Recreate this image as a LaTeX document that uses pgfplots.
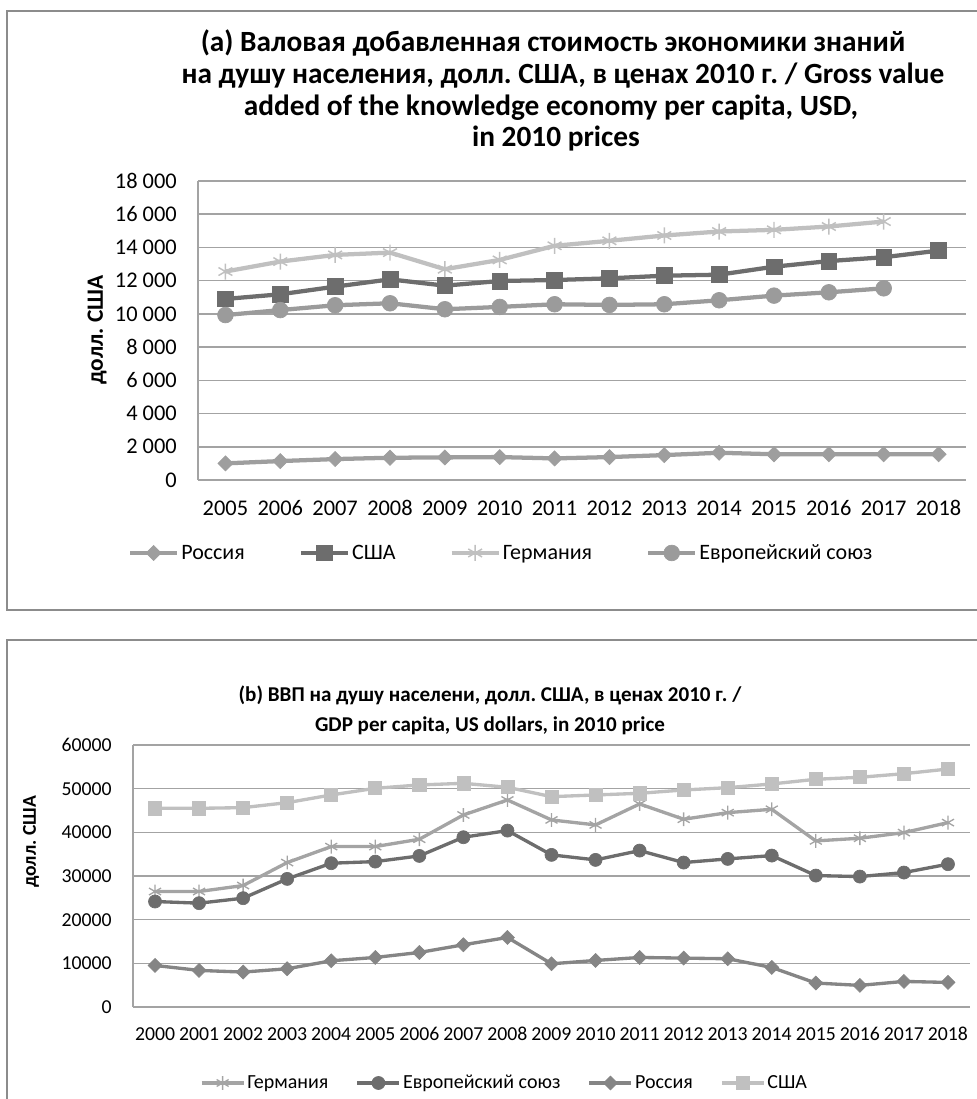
\documentclass[border=0pt]{standalone}
\usepackage{pgfplots}
\pgfplotsset{compat=1.18}
\usepackage{fontspec}
\setmainfont{Carlito}
\definecolor{gridc}{HTML}{A3A3A3}
\definecolor{framec}{HTML}{8C8C8C}
\definecolor{cRuA}{HTML}{9E9E9E}
\definecolor{cDark}{HTML}{6D6D6D}
\definecolor{cLight}{HTML}{C0C0C0}
\definecolor{cEuA}{HTML}{9B9B9B}
\definecolor{cDeB}{HTML}{A4A4A4}
\definecolor{cRuB}{HTML}{858585}

\pgfplotsset{
  common/.style={
    scale only axis, axis lines*=left,
    axis line style={gridc, line width=1.1pt},
    ymajorgrids, grid style={gridc, line width=1.1pt},
    major tick length=0pt, tick style={draw=none},
    /pgf/number format/assume math mode=true,
    x tick label style={/pgf/number format/1000 sep={}},
    scaled y ticks=false, clip=false,
    legend cell align=left,
  },
}

\begin{document}
\frenchspacing
\begin{tikzpicture}
\begin{scope}[x=0.75pt,y=-0.75pt]
\useasboundingbox (0,0) rectangle (977,1099);
\draw[framec, line width=1.1pt] (977,11) -- (7,11) -- (7,610) -- (977,610);
\draw[framec, line width=1.1pt] (977,640) -- (7,640) -- (7,1105);
\begin{scope}[font=\fontsize{22}{25}\selectfont\bfseries]
\node[anchor=base] at (553,52) {(а) Валовая добавленная стоимость экономики знаний};
\node[anchor=base] at (563,83.5) {на душу населения, долл. США, в ценах 2010 г. / Gross value};
\node[anchor=base] at (551,115) {added of the knowledge economy per capita, USD,};
\node[anchor=base] at (556,146) {in 2010 prices};
\end{scope}
\begin{scope}[font=\fontsize{15.8}{19}\selectfont\bfseries]
\node[anchor=base] at (490,701.5) {(b) ВВП на душу населени, долл. США, в ценах 2010 г. /};
\node[anchor=base] at (490,731.5) {GDP per capita, US dollars, in 2010 price};
\end{scope}
\node[rotate=90, font=\fontsize{17.5}{20}\selectfont\bfseries] at (97,330) {долл. США};
\node[rotate=90, font=\fontsize{14.7}{17}\selectfont\bfseries] at (31,842) {долл. США};
\end{scope}

% ---------- (a) ----------
\begin{axis}[common,
  at={(148.5pt,-360pt)}, anchor=south west,
  width=576pt, height=224.25pt,
  xmin=2004.5, xmax=2018.5, ymin=0, ymax=18000,
  xtick={2005,...,2018}, ytick={0,2000,...,18000},
  y tick label style={/pgf/number format/1000 sep={\ }},
  tick label style={font=\fontsize{16.8}{19}\selectfont, inner sep=0pt},
  xticklabel style={anchor=base, yshift=-26.25pt},
  yticklabel style={xshift=-15.75pt},
  legend columns=4,
  legend image code/.code={\draw[mark repeat=2,mark phase=2,#1] plot coordinates {(0pt,0pt) (17.6pt,0pt) (35.25pt,0pt)};},
  legend style={at={(-0.0911,-0.244)}, anchor=west, draw=none, fill=none,
    inner sep=0pt, outer sep=0pt, font=\fontsize{16.5}{19}\selectfont,
    nodes={inner sep=1.5pt},
    /tikz/every even column/.append style={column sep=39pt}},
]
\addplot[color=cRuA, line width=3.2pt, mark=square*, mark size=4pt,
  mark options={rotate=45, line width=0.5pt}] coordinates {
(2005,1000)(2006,1140)(2007,1260)(2008,1340)(2009,1360)(2010,1380)(2011,1300)
(2012,1380)(2013,1500)(2014,1640)(2015,1550)(2016,1550)(2017,1550)(2018,1550)};
\addlegendentry{Россия}
\addplot[color=cDark, line width=3.2pt, mark=square*, mark size=5.9pt,
  mark options={line width=0.5pt}] coordinates {
(2005,10900)(2006,11180)(2007,11640)(2008,12080)(2009,11700)(2010,11980)(2011,12040)
(2012,12140)(2013,12300)(2014,12360)(2015,12840)(2016,13180)(2017,13410)(2018,13810)};
\addlegendentry{США}
\addplot[color=cLight, line width=3.2pt, mark=asterisk, mark size=6pt,
  mark options={line width=1.1pt}] coordinates {
(2005,12550)(2006,13150)(2007,13550)(2008,13690)(2009,12690)(2010,13250)(2011,14100)
(2012,14400)(2013,14720)(2014,14960)(2015,15060)(2016,15260)(2017,15560)};
\addlegendentry{Германия}
\addplot[color=cEuA, line width=3.2pt, mark=*, mark size=5.9pt,
  mark options={line width=0.5pt}] coordinates {
(2005,9930)(2006,10230)(2007,10520)(2008,10640)(2009,10280)(2010,10420)(2011,10580)
(2012,10540)(2013,10580)(2014,10820)(2015,11100)(2016,11300)(2017,11540)};
\addlegendentry{Европейский союз}
\end{axis}

% ---------- (b) ----------
\begin{axis}[common,
  at={(99.75pt,-755.25pt)}, anchor=south west,
  width=627.75pt, height=196.5pt,
  xmin=1999.5, xmax=2018.5, ymin=0, ymax=60000,
  xtick={2000,...,2018}, ytick={0,10000,...,60000},
  y tick label style={/pgf/number format/1000 sep={}},
  tick label style={font=\fontsize{14.8}{17}\selectfont, inner sep=0pt},
  xticklabel style={anchor=base, yshift=-24.75pt},
  yticklabel style={xshift=-15.75pt},
  legend columns=4,
  legend image code/.code={\draw[mark repeat=2,mark phase=2,#1] plot coordinates {(0pt,0pt) (15.75pt,0pt) (31.5pt,0pt)};},
  legend style={at={(0.080,-0.290)}, anchor=west, draw=none, fill=none,
    inner sep=0pt, outer sep=0pt, font=\fontsize{15}{18}\selectfont,
    nodes={inner sep=1.5pt},
    /tikz/every even column/.append style={column sep=19pt}},
]
\addplot[color=cDeB, line width=2.5pt, mark=asterisk, mark size=5.2pt,
  mark options={line width=1pt}] coordinates {
(2000,26450)(2001,26450)(2002,27820)(2003,33080)(2004,36740)(2005,36740)(2006,38420)
(2007,43980)(2008,47410)(2009,42840)(2010,41700)(2011,46500)(2012,43000)(2013,44510)
(2014,45280)(2015,38040)(2016,38650)(2017,39940)(2018,42230)};
\addlegendentry{Германия}
\addplot[color=cDark, line width=2.5pt, mark=*, mark size=4.9pt,
  mark options={line width=0.5pt}] coordinates {
(2000,24160)(2001,23780)(2002,24920)(2003,29340)(2004,32930)(2005,33300)(2006,34600)
(2007,38880)(2008,40400)(2009,34840)(2010,33690)(2011,35820)(2012,33080)(2013,33920)
(2014,34680)(2015,30100)(2016,29870)(2017,30790)(2018,32710)};
\addlegendentry{Европейский союз}
\addplot[color=cRuB, line width=2.5pt, mark=square*, mark size=3.7pt,
  mark options={rotate=45, line width=0.5pt}] coordinates {
(2000,9520)(2001,8380)(2002,8000)(2003,8760)(2004,10590)(2005,11350)(2006,12490)
(2007,14250)(2008,15930)(2009,9900)(2010,10660)(2011,11350)(2012,11200)(2013,11050)
(2014,9060)(2015,5490)(2016,4950)(2017,5860)(2018,5630)};
\addlegendentry{Россия}
\addplot[color=cLight, line width=2.5pt, mark=square*, mark size=4.9pt,
  mark options={line width=0.5pt}] coordinates {
(2000,45500)(2001,45500)(2002,45660)(2003,46800)(2004,48560)(2005,50090)(2006,50850)
(2007,51230)(2008,50320)(2009,48170)(2010,48560)(2011,48940)(2012,49700)(2013,50230)
(2014,51080)(2015,52150)(2016,52610)(2017,53430)(2018,54500)};
\addlegendentry{США}
\end{axis}
\end{tikzpicture}
\end{document}
